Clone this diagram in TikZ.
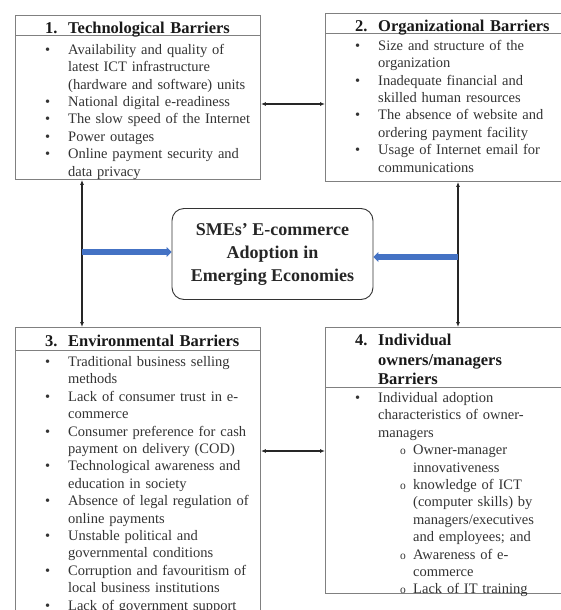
\documentclass[tikz,border=0pt]{standalone}
\usepackage{fontspec}
\setmainfont{Liberation Serif}
\usepackage{xcolor}
\usetikzlibrary{arrows.meta}
\definecolor{feedblue}{RGB}{68,114,196}
\newenvironment{barlist}[1]{\begin{list}{#1}{\setlength{\leftmargin}{23pt}\setlength{\labelwidth}{23pt}%
  \setlength{\labelsep}{0pt}\setlength{\itemsep}{0pt}\setlength{\parsep}{0pt}%
  \setlength{\topsep}{0pt}\setlength{\partopsep}{0pt}\renewcommand{\makelabel}[1]{##1\hfil}}\raggedright}{\end{list}}
\newenvironment{subbarlist}{\begin{list}{o}{\setlength{\leftmargin}{35pt}\setlength{\labelwidth}{35pt}%
  \setlength{\labelsep}{0pt}\setlength{\itemsep}{0pt}\setlength{\parsep}{0pt}%
  \setlength{\topsep}{0pt}\setlength{\partopsep}{0pt}%
  \renewcommand{\makelabel}[1]{\hspace{22pt}{\fontsize{11.5}{11.5}\selectfont ##1}\hfil}}\raggedright}{\end{list}}
\tikzset{
  barbox/.style={draw=black!50, line width=0.9pt, anchor=north west, inner sep=0pt},
  barrule/.style={draw=black!50, line width=0.9pt},
  barhead/.style={anchor=base west, inner sep=0pt, text width=205pt, text=black!90,
                  font=\bfseries\fontsize{16.5}{19.5}\selectfont},
  bartext/.style={anchor=base west, inner sep=0pt, text width=205pt, text=black!80,
                  font=\fontsize{14.5}{17.4}\selectfont},
  corebox/.style={draw=black!80, line width=0.9pt, rounded corners=12pt, align=center,
                  minimum width=201pt, minimum height=91pt, text=black!85,
                  font=\bfseries\fontsize{18}{23}\selectfont},
  link/.style={<->, line width=1.2pt, black!85, >={Latex[length=5pt,width=4pt]}},
  feed/.style={-{Triangle[length=5pt,width=10pt]}, line width=6pt, feedblue}
}

\begin{document}
\begin{tikzpicture}[x=1pt, y=-1pt]
\useasboundingbox (0,0) rectangle (561,610);

% --- Barrier boxes
\node[barbox, minimum width=245pt, minimum height=164pt] (tech) at (15,15) {};
\node[barbox, minimum width=238pt, minimum height=168pt] (org) at (325,13) {};
\node[barbox, minimum width=245pt, minimum height=293pt] (env) at (15,327) {};
\node[barbox, minimum width=238pt, minimum height=266pt] (ind) at (325,327) {};
\draw[barrule] (tech.west |- 0,35) -- (tech.east |- 0,35);
\draw[barrule] (org.west |- 0,33) -- (org.east |- 0,33);
\draw[barrule] (env.west |- 0,350) -- (env.east |- 0,350);
\draw[barrule] (ind.west |- 0,387) -- (ind.east |- 0,387);

% --- Box 1
\node[barhead] (techhead) at (45,14) {\begin{barlist}{}\item[1.] Technological Barriers\end{barlist}};
\node[bartext] (techlist) at (45,37) {\begin{barlist}{\textbullet}
  \item Availability and quality of\\ latest ICT infrastructure\\ (hardware and software) units
  \item National digital e-readiness
  \item The slow speed of the Internet
  \item Power outages
  \item Online payment security and\\ data privacy
\end{barlist}};

% --- Box 2
\node[barhead] (orghead) at (355,12.5) {\begin{barlist}{}\item[2.] Organizational Barriers\end{barlist}};
\node[bartext] (orglist) at (355,33) {\begin{barlist}{\textbullet}
  \item Size and structure of the\\ organization
  \item Inadequate financial and\\ skilled human resources
  \item The absence of website and\\ ordering payment facility
  \item Usage of Internet email for\\ communications
\end{barlist}};

% --- Box 3
\node[barhead] (envhead) at (45,326.5) {\begin{barlist}{}\item[3.] Environmental Barriers\end{barlist}};
\node[bartext] (envlist) at (45,349) {\begin{barlist}{\textbullet}
  \item Traditional business selling\\ methods
  \item Lack of consumer trust in e-\\ commerce
  \item Consumer preference for cash\\ payment on delivery (COD)
  \item Technological awareness and\\ education in society
  \item Absence of legal regulation of\\ online payments
  \item Unstable political and\\ governmental conditions
  \item Corruption and favouritism of\\ local business institutions
  \item Lack of government support
\end{barlist}};

% --- Box 4
\node[barhead] (indhead) at (355,326) {\begin{barlist}{}\item[4.] Individual\\ owners/managers\\ Barriers\end{barlist}};
\node[bartext] (indlist) at (355,385) {\begin{barlist}{\textbullet}
  \item Individual adoption\\ characteristics of owner-\\ managers
  \begin{subbarlist}
    \item Owner-manager\\ innovativeness
    \item knowledge of ICT\\ (computer skills) by\\ managers/executives\\ and employees; and
    \item Awareness of e-\\ commerce
    \item Lack of IT training
  \end{subbarlist}
\end{barlist}};

% --- Core
\node[corebox] (core) at (272.5,254) {SMEs' E-commerce\\ Adoption in\\ Emerging Economies};

% --- Links between barriers
\draw[link] (tech.east |- 0,104) -- (org.west |- 0,104);
\draw[link] (env.east |- 0,451) -- (ind.west |- 0,451);
\draw[link] (tech.south -| 82,0) -- (env.north -| 82,0);
\draw[link] (org.south -| 458,0) -- (ind.north -| 458,0);

% --- Feeds into the core
\coordinate (lfeed) at (82,252);
\coordinate (rfeed) at (458,257);
\draw[feed] (lfeed) -- (core.west |- lfeed);
\draw[feed] (rfeed) -- (core.east |- rfeed);

\end{tikzpicture}
\end{document}
